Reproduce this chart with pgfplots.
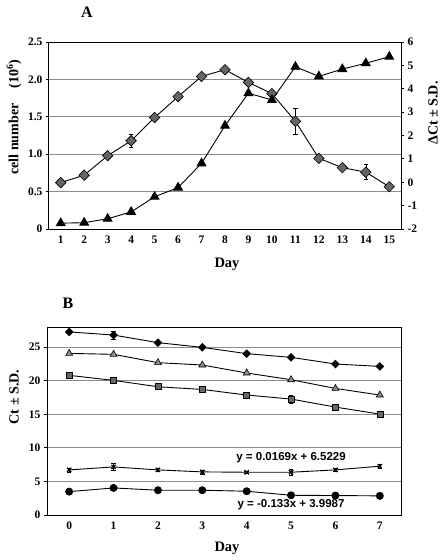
\documentclass[border=0pt]{standalone}
\usepackage{pgfplots}
\pgfplotsset{compat=1.18}
\usepackage{fontspec}
\setmainfont{Liberation Serif}
\newfontfamily\eqfont{Liberation Sans}
\begin{document}
\begin{tikzpicture}
\path[use as bounding box] (0pt,0pt) rectangle (442pt,-560pt);
\pgfplotsset{
  common/.style={scale only axis, anchor=south west, tick align=outside, major tick length=3pt,
    ticklabel style={font=\bfseries\fontsize{11.5}{13}\selectfont},
    /pgf/number format/assume math mode=true,
    axis line style={line width=1pt}, tick style={black, line width=0.8pt},
    every x tick/.style={draw=none}, every major x tick/.style={draw=none},
    grid style={black!45, line width=0.8pt},
    error bars/error mark options={rotate=90, mark size=2.2pt, line width=0.6pt, black},
    error bars/error bar style={line width=0.6pt, black},
  },
  ln/.style={black, line width=0.9pt},
}
% ---------- Panel A ----------
\begin{axis}[common, at={(49pt,-229pt)}, width=352pt, height=187pt,
  xmin=0.5, xmax=15.5, ymin=0, ymax=2.5, xtick={1,...,15},
  ytick={0,0.5,1,1.5,2,2.5}, yticklabels={0,0.5,1.0,1.5,2.0,2.5},
  ytick pos=left, ymajorgrids]
\addplot[ln, mark=square*, mark size=3.7pt, mark options={rotate=45, fill=black!60, draw=black, line width=0.6pt},
  error bars/.cd, y dir=both, y explicit] coordinates {
(1,0.62)+-(0,0.03) (2,0.72)+-(0,0.04) (3,0.98)+-(0,0.02) (4,1.18)+-(0,0.09)
(5,1.49)+-(0,0.02) (6,1.77)+-(0,0.05) (7,2.04)+-(0,0.02) (8,2.13)+-(0,0.02)
(9,1.96)+-(0,0.02) (10,1.81)+-(0,0.03) (11,1.44)+-(0,0.18) (12,0.945)+-(0,0.02)
(13,0.82)+-(0,0.03) (14,0.76)+-(0,0.1) (15,0.565)+-(0,0.02)};
\end{axis}
\begin{axis}[common, at={(49pt,-229pt)}, width=352pt, height=187pt,
  xmin=0.5, xmax=15.5, ymin=-2, ymax=6, axis x line=none, axis y line*=right,
  ytick={-2,...,6}]
\addplot[ln, mark=triangle*, mark size=5pt, mark options={fill=black, draw=black}] coordinates {
(1,-1.75) (2,-1.73) (3,-1.56) (4,-1.27) (5,-0.62) (6,-0.23) (7,0.81) (8,2.42)
(9,3.81) (10,3.52) (11,4.94) (12,4.53) (13,4.84) (14,5.09) (15,5.37)};
\end{axis}
\node[font=\bfseries\fontsize{16}{18}\selectfont] at (87pt,-12pt) {A};
\node[font=\bfseries\fontsize{14.5}{16}\selectfont] at (227pt,-264pt) {Day};
\node[font=\bfseries\fontsize{14}{16}\selectfont, rotate=90] at (14pt,-117pt) {cell number\hspace{1.1em}(10\textsuperscript{6})};
\node[font=\bfseries\fontsize{14}{16}\selectfont, rotate=90] at (433pt,-113pt) {ΔCt ± S.D.};
% ---------- Panel B ----------
\begin{axis}[common, at={(47pt,-515pt)}, width=355pt, height=188pt,
  xmin=-0.5, xmax=7.5, ymin=0, ymax=28, xtick={0,...,7},
  ytick={0,5,...,25}, ytick pos=left, ymajorgrids]
\addplot[ln, mark=square*, mark size=2.6pt, mark options={rotate=45, fill=black, draw=black},
  error bars/.cd, y dir=both, y explicit] coordinates {
(0,27.27)+-(0,0.2) (1,26.8)+-(0,0.6) (2,25.67)+-(0,0.2) (3,24.97)+-(0,0.2)
(4,24.03)+-(0,0.2) (5,23.48)+-(0,0.2) (6,22.49)+-(0,0.2) (7,22.13)+-(0,0.2)};
\addplot[ln, mark=triangle*, mark size=4pt, mark options={fill=black!45, draw=black, line width=0.6pt}] coordinates {
(0,24.07) (1,23.93) (2,22.69) (3,22.34) (4,21.15) (5,20.15) (6,18.85) (7,17.87)};
\addplot[ln, mark=square*, mark size=3pt, mark options={fill=black!60, draw=black, line width=0.6pt},
  error bars/.cd, y dir=both, y explicit] coordinates {
(0,20.8)+-(0,0.2) (1,20.05)+-(0,0.2) (2,19.1)+-(0,0.2) (3,18.7)+-(0,0.3)
(4,17.87)+-(0,0.2) (5,17.27)+-(0,0.6) (6,16.07)+-(0,0.2) (7,15.03)+-(0,0.4)};
\addplot[ln, mark=x, mark size=3pt, mark options={line width=1.2pt, draw=black},
  error bars/.cd, y dir=both, y explicit] coordinates {
(0,6.72)+-(0,0.3) (1,7.16)+-(0,0.5) (2,6.72)+-(0,0.2) (3,6.42)+-(0,0.3)
(4,6.37)+-(0,0.2) (5,6.37)+-(0,0.5) (6,6.72)+-(0,0.2) (7,7.27)+-(0,0.3)};
\addplot[ln, mark=*, mark size=3.5pt, mark options={fill=black, draw=black}] coordinates {
(0,3.48) (1,4.03) (2,3.69) (3,3.69) (4,3.54) (5,2.94) (6,2.9) (7,2.85)};
\node[font=\eqfont\bfseries\fontsize{11.5}{13}\selectfont] at (axis cs:5,8.5) {y = 0.0169x + 6.5229};
\node[font=\eqfont\bfseries\fontsize{11.5}{13}\selectfont] at (axis cs:5,1.5) {y = -0.133x + 3.9987};
\end{axis}
\node[font=\bfseries\fontsize{16}{18}\selectfont] at (68pt,-303pt) {B};
\node[font=\bfseries\fontsize{14.5}{16}\selectfont] at (227pt,-548pt) {Day};
\node[font=\bfseries\fontsize{14}{16}\selectfont, rotate=90] at (14pt,-397pt) {Ct ± S.D.};
\end{tikzpicture}
\end{document}
